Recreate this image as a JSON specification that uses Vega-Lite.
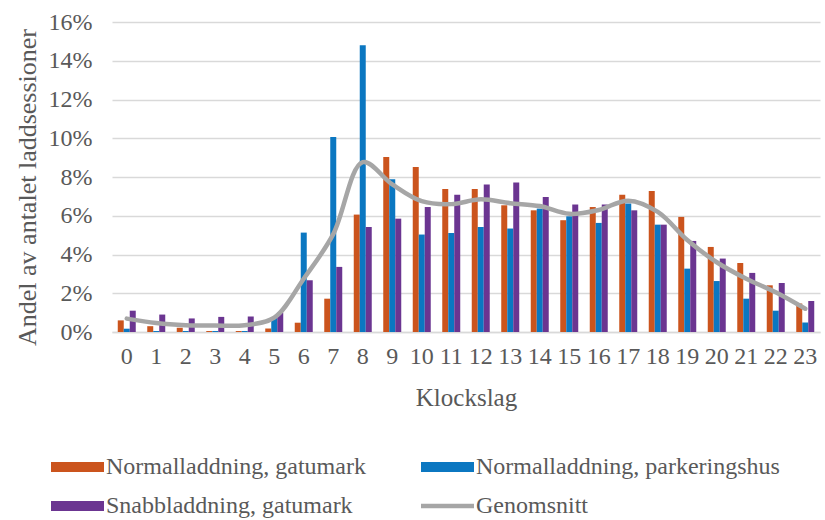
{
  "$schema": "https://vega.github.io/schema/vega-lite/v6.json",
  "autosize": {"type": "none"},
  "padding": {"left": 112, "top": 22, "right": 5, "bottom": 188},
  "width": 708,
  "height": 310,
  "background": "#ffffff",
  "config": {
    "view": {"stroke": null},
    "font": "Liberation Serif",
    "axis": {"labelFont": "Liberation Serif", "titleFont": "Liberation Serif", "labelColor": "#595959", "titleColor": "#595959", "titleFontWeight": "normal"},
    "legend": {"labelFont": "Liberation Serif", "labelColor": "#595959"}
  },
  "datasets": {
    "sessions": [
      {"hour": 0, "serie": "Normalladdning, gatumark", "share": 0.0060},
      {"hour": 0, "serie": "Normalladdning, parkeringshus", "share": 0.0017},
      {"hour": 0, "serie": "Snabbladdning, gatumark", "share": 0.0110},
      {"hour": 1, "serie": "Normalladdning, gatumark", "share": 0.0030},
      {"hour": 1, "serie": "Normalladdning, parkeringshus", "share": 0.0005},
      {"hour": 1, "serie": "Snabbladdning, gatumark", "share": 0.0090},
      {"hour": 2, "serie": "Normalladdning, gatumark", "share": 0.0022},
      {"hour": 2, "serie": "Normalladdning, parkeringshus", "share": 0.0005},
      {"hour": 2, "serie": "Snabbladdning, gatumark", "share": 0.0070},
      {"hour": 3, "serie": "Normalladdning, gatumark", "share": 0.0005},
      {"hour": 3, "serie": "Normalladdning, parkeringshus", "share": 0.0005},
      {"hour": 3, "serie": "Snabbladdning, gatumark", "share": 0.0078},
      {"hour": 4, "serie": "Normalladdning, gatumark", "share": 0.0005},
      {"hour": 4, "serie": "Normalladdning, parkeringshus", "share": 0.0005},
      {"hour": 4, "serie": "Snabbladdning, gatumark", "share": 0.0080},
      {"hour": 5, "serie": "Normalladdning, gatumark", "share": 0.0018},
      {"hour": 5, "serie": "Normalladdning, parkeringshus", "share": 0.0075},
      {"hour": 5, "serie": "Snabbladdning, gatumark", "share": 0.0100},
      {"hour": 6, "serie": "Normalladdning, gatumark", "share": 0.0048},
      {"hour": 6, "serie": "Normalladdning, parkeringshus", "share": 0.0513},
      {"hour": 6, "serie": "Snabbladdning, gatumark", "share": 0.0267},
      {"hour": 7, "serie": "Normalladdning, gatumark", "share": 0.0172},
      {"hour": 7, "serie": "Normalladdning, parkeringshus", "share": 0.1006},
      {"hour": 7, "serie": "Snabbladdning, gatumark", "share": 0.0336},
      {"hour": 8, "serie": "Normalladdning, gatumark", "share": 0.0606},
      {"hour": 8, "serie": "Normalladdning, parkeringshus", "share": 0.1480},
      {"hour": 8, "serie": "Snabbladdning, gatumark", "share": 0.0542},
      {"hour": 9, "serie": "Normalladdning, gatumark", "share": 0.0903},
      {"hour": 9, "serie": "Normalladdning, parkeringshus", "share": 0.0788},
      {"hour": 9, "serie": "Snabbladdning, gatumark", "share": 0.0585},
      {"hour": 10, "serie": "Normalladdning, gatumark", "share": 0.0852},
      {"hour": 10, "serie": "Normalladdning, parkeringshus", "share": 0.0503},
      {"hour": 10, "serie": "Snabbladdning, gatumark", "share": 0.0645},
      {"hour": 11, "serie": "Normalladdning, gatumark", "share": 0.0738},
      {"hour": 11, "serie": "Normalladdning, parkeringshus", "share": 0.0511},
      {"hour": 11, "serie": "Snabbladdning, gatumark", "share": 0.0709},
      {"hour": 12, "serie": "Normalladdning, gatumark", "share": 0.0738},
      {"hour": 12, "serie": "Normalladdning, parkeringshus", "share": 0.0542},
      {"hour": 12, "serie": "Snabbladdning, gatumark", "share": 0.0761},
      {"hour": 13, "serie": "Normalladdning, gatumark", "share": 0.0654},
      {"hour": 13, "serie": "Normalladdning, parkeringshus", "share": 0.0534},
      {"hour": 13, "serie": "Snabbladdning, gatumark", "share": 0.0771},
      {"hour": 14, "serie": "Normalladdning, gatumark", "share": 0.0628},
      {"hour": 14, "serie": "Normalladdning, parkeringshus", "share": 0.0637},
      {"hour": 14, "serie": "Snabbladdning, gatumark", "share": 0.0697},
      {"hour": 15, "serie": "Normalladdning, gatumark", "share": 0.0577},
      {"hour": 15, "serie": "Normalladdning, parkeringshus", "share": 0.0597},
      {"hour": 15, "serie": "Snabbladdning, gatumark", "share": 0.0658},
      {"hour": 16, "serie": "Normalladdning, gatumark", "share": 0.0645},
      {"hour": 16, "serie": "Normalladdning, parkeringshus", "share": 0.0563},
      {"hour": 16, "serie": "Snabbladdning, gatumark", "share": 0.0658},
      {"hour": 17, "serie": "Normalladdning, gatumark", "share": 0.0709},
      {"hour": 17, "serie": "Normalladdning, parkeringshus", "share": 0.0663},
      {"hour": 17, "serie": "Snabbladdning, gatumark", "share": 0.0628},
      {"hour": 18, "serie": "Normalladdning, gatumark", "share": 0.0728},
      {"hour": 18, "serie": "Normalladdning, parkeringshus", "share": 0.0554},
      {"hour": 18, "serie": "Snabbladdning, gatumark", "share": 0.0554},
      {"hour": 19, "serie": "Normalladdning, gatumark", "share": 0.0594},
      {"hour": 19, "serie": "Normalladdning, parkeringshus", "share": 0.0327},
      {"hour": 19, "serie": "Snabbladdning, gatumark", "share": 0.0470},
      {"hour": 20, "serie": "Normalladdning, gatumark", "share": 0.0439},
      {"hour": 20, "serie": "Normalladdning, parkeringshus", "share": 0.0263},
      {"hour": 20, "serie": "Snabbladdning, gatumark", "share": 0.0379},
      {"hour": 21, "serie": "Normalladdning, gatumark", "share": 0.0356},
      {"hour": 21, "serie": "Normalladdning, parkeringshus", "share": 0.0172},
      {"hour": 21, "serie": "Snabbladdning, gatumark", "share": 0.0305},
      {"hour": 22, "serie": "Normalladdning, gatumark", "share": 0.0241},
      {"hour": 22, "serie": "Normalladdning, parkeringshus", "share": 0.0110},
      {"hour": 22, "serie": "Snabbladdning, gatumark", "share": 0.0253},
      {"hour": 23, "serie": "Normalladdning, gatumark", "share": 0.0147},
      {"hour": 23, "serie": "Normalladdning, parkeringshus", "share": 0.0049},
      {"hour": 23, "serie": "Snabbladdning, gatumark", "share": 0.0160}
    ],
    "average": [
      {"hour": 0, "share": 0.0069},
      {"hour": 1, "share": 0.0046},
      {"hour": 2, "share": 0.0035},
      {"hour": 3, "share": 0.0033},
      {"hour": 4, "share": 0.0035},
      {"hour": 5, "share": 0.0074},
      {"hour": 6, "share": 0.0275},
      {"hour": 7, "share": 0.0505},
      {"hour": 8, "share": 0.0877},
      {"hour": 9, "share": 0.0762},
      {"hour": 10, "share": 0.0675},
      {"hour": 11, "share": 0.0660},
      {"hour": 12, "share": 0.0685},
      {"hour": 13, "share": 0.0665},
      {"hour": 14, "share": 0.0650},
      {"hour": 15, "share": 0.0610},
      {"hour": 16, "share": 0.0630},
      {"hour": 17, "share": 0.0678},
      {"hour": 18, "share": 0.0620},
      {"hour": 19, "share": 0.0475},
      {"hour": 20, "share": 0.0360},
      {"hour": 21, "share": 0.0275},
      {"hour": 22, "share": 0.0205},
      {"hour": 23, "share": 0.0120}
    ]
  },
  "encoding": {
    "x": {
      "field": "hour",
      "type": "ordinal",
      "scale": {"paddingInner": 0.39, "paddingOuter": 0.195},
      "axis": {
        "title": "Klockslag",
        "labelAngle": 0,
        "labelFontSize": 24,
        "titleFontSize": 25,
        "ticks": false,
        "labelPadding": 12,
        "titlePadding": 17,
        "domainColor": "#D9D9D9",
        "domainWidth": 1.3,
        "grid": false
      }
    },
    "y": {
      "field": "share",
      "type": "quantitative",
      "scale": {"domain": [0, 0.16], "nice": false},
      "axis": {
        "title": "Andel av antalet laddsessioner",
        "values": [0, 0.02, 0.04, 0.06, 0.08, 0.1, 0.12, 0.14, 0.16],
        "format": ".0%",
        "labelFontSize": 24,
        "titleFontSize": 26,
        "ticks": false,
        "domain": false,
        "labelPadding": 20,
        "gridColor": "#D9D9D9",
        "gridWidth": 1.3,
        "titleX": -85,
        "titleY": 165,
        "titleAngle": -90,
        "titleAlign": "center",
        "titleBaseline": "middle"
      }
    }
  },
  "layer": [
    {
      "data": {"name": "sessions"},
      "mark": {"type": "bar"},
      "encoding": {
        "xOffset": {
          "field": "serie",
          "sort": ["Normalladdning, gatumark", "Normalladdning, parkeringshus", "Snabbladdning, gatumark"],
          "scale": {"paddingInner": 0, "paddingOuter": 0}
        },
        "color": {
          "field": "serie",
          "type": "nominal",
          "scale": {
            "domain": ["Normalladdning, gatumark", "Normalladdning, parkeringshus", "Snabbladdning, gatumark", "Genomsnitt"],
            "range": ["#CB541D", "#0B77C1", "#6B3591", "#A6A6A6"]
          },
          "legend": {
            "title": null,
            "orient": "none",
            "direction": "horizontal",
            "columns": 2,
            "legendX": -68,
            "legendY": 433,
            "labelFontSize": 24,
            "labelLimit": 500,
            "symbolSize": 100,
            "labelOffset": 38,
            "columnPadding": 48,
            "rowPadding": 15,
            "encode": {
              "symbols": {
                "update": {
                  "shape": {"signal": "datum.label == 'Genomsnitt' ? 'M-1,-0.45H9.6V0.45H-1Z' : 'M-1,-1H9.6V1H-1Z'"},
                  "fill": {"scale": "color", "field": "value"},
                  "strokeWidth": {"value": 0},
                  "opacity": {"value": 1}
                }
              }
            }
          }
        }
      }
    },
    {
      "data": {"name": "average"},
      "mark": {"type": "line", "interpolate": "catmull-rom", "strokeWidth": 4.5, "strokeCap": "round", "strokeJoin": "round"},
      "encoding": {
        "color": {"datum": "Genomsnitt", "type": "nominal"}
      }
    }
  ]
}
